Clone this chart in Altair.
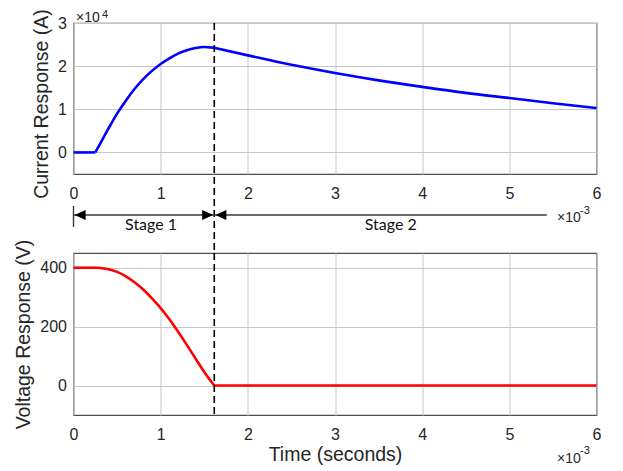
import altair as alt
import pandas as pd

# ---------------- data ----------------
# current response (top panel); time in milliseconds, current in A
time_i_ms = [0, 0.25, 0.3, 0.4, 0.5, 0.6, 0.7, 0.8, 0.9, 1.0, 1.1, 1.2, 1.3, 1.4, 1.5, 1.6,
             2.0, 2.5, 3.0, 3.5, 4.0, 4.5, 5.0, 5.5, 6.0]
current_A = [0, 0, 1800, 5500, 9000, 12000, 14700, 17000, 18900, 20500, 21800, 22900,
             23700, 24200, 24450, 24300,
             22500, 20300, 18400, 16700, 15200, 13800, 12600, 11400, 10300]
current_kinks_ms = [0.25, 1.6]

# voltage response (bottom panel); time in milliseconds, voltage in V
time_v_ms = [0, 0.27, 0.4, 0.5, 0.6, 0.7, 0.8, 0.9, 1.0, 1.1, 1.2, 1.3, 1.4, 1.5, 1.615, 6.0]
voltage_V = [400, 400, 395, 386, 371, 351, 326, 296, 263, 225, 183, 138, 92, 46, 0, 0]
voltage_kinks_ms = [0.27, 1.615]

# stage boundaries (ms)
stage_boundary_ms = 1.615
stage2_end_ms = 5.43
stage_labels = ["Stage 1", "Stage 2"]
stage_label_pos_ms = [0.89, 3.64]

x_ticks_ms = [0, 1, 2, 3, 4, 5, 6]
i_ticks = [0, 10000, 20000, 30000]
v_ticks = [0, 200, 400]


def segmented(times_ms, values, kinks, name):
    """Split a curve at its kinks so each smooth piece is drawn on its own."""
    edges = [min(times_ms)] + list(kinks) + [max(times_ms)]
    rows = []
    for k in range(len(edges) - 1):
        for t, v in zip(times_ms, values):
            if edges[k] <= t <= edges[k + 1]:
                rows.append({"t": t / 1000, name: v, "seg": k})
    return pd.DataFrame(rows)


# ---------------- tables ----------------
df_i = segmented(time_i_ms, current_A, current_kinks_ms, "I")
df_v = segmented(time_v_ms, voltage_V, voltage_kinks_ms, "V")
df_edge = pd.DataFrame({"t": [stage_boundary_ms / 1000]})
df_zero = pd.DataFrame({"t": [0.0]})
df_seg = pd.DataFrame({"t0": [0.0, stage_boundary_ms / 1000],
                       "t1": [stage_boundary_ms / 1000, stage2_end_ms / 1000]})
df_lab = pd.DataFrame({"t": [v / 1000 for v in stage_label_pos_ms], "label": stage_labels})

FONT = "Liberation Sans"
TXT = "#262626"
W, H1, H2, GAP = 523, 151, 162, 79

xscale = alt.Scale(domain=[0, 0.006], nice=False, zero=False)


def xaxis(title):
    kw = dict(values=[v / 1000 for v in x_ticks_ms], labelExpr="round(datum.value*1000)",
              grid=True, ticks=False, domain=False, labelPadding=11, labelFlush=False,
              labelOverlap=False, labelFontSize=16, labelFont=FONT, labelColor=TXT,
              gridColor="#c8c8c8", gridWidth=1)
    if title:
        kw.update(title=title, titleFont=FONT, titleFontSize=19.5, titleFontWeight="normal",
                  titleColor=TXT, titlePadding=3)
    else:
        kw.update(title=None)
    return alt.Axis(**kw)


def yaxis(title, values, expr, title_y):
    return alt.Axis(values=values, labelExpr=expr, title=title, titleFont=FONT,
                    titleFontSize=19.5, titleFontWeight="normal", titleColor=TXT,
                    titlePadding=6, titleY=title_y, grid=True, ticks=False, domain=False,
                    labelPadding=7, labelFontSize=16, labelFont=FONT, labelColor=TXT,
                    gridColor="#c8c8c8", gridWidth=1)


def one(text):
    return pd.DataFrame({"label": [text]})


LEFT_HEAD = "M 0.2 0 L 2.2 -0.9 L 2.2 0.9 Z"
RIGHT_HEAD = "M -0.2 0 L -2.2 -0.9 L -2.2 0.9 Z"
ARROW_Y = 192

# ---------------- top panel ----------------
line_i = alt.Chart(df_i).mark_line(color="#0000ff", strokeWidth=2.6, interpolate="monotone").encode(
    x=alt.X("t:Q", scale=xscale, axis=xaxis(None)),
    y=alt.Y("I:Q", scale=alt.Scale(domain=[-5000, 30000], nice=False),
            axis=yaxis("Current Response (A)", i_ticks, "round(datum.value/10000)", H1 / 2 + 5)),
    detail="seg:N",
)
rule_top = alt.Chart(df_edge).mark_rule(color="black", strokeWidth=1.6, strokeDash=[7, 4]).encode(
    x="t:Q", y=alt.value(0), y2=alt.value(H1 + GAP))
segs = alt.Chart(df_seg).mark_rule(color="#3a3a3a", strokeWidth=1.4).encode(
    x="t0:Q", x2="t1:Q", y=alt.value(ARROW_Y))
bar0 = alt.Chart(df_zero).mark_rule(color="#3a3a3a", strokeWidth=1.4).encode(
    x="t:Q", y=alt.value(183), y2=alt.value(204))
head_l = alt.Chart(pd.DataFrame({"t": [0.0, stage_boundary_ms / 1000]})).mark_point(
    shape=LEFT_HEAD, filled=True, size=121, color="black", opacity=1).encode(
    x="t:Q", y=alt.value(ARROW_Y))
head_r = alt.Chart(df_edge).mark_point(
    shape=RIGHT_HEAD, filled=True, size=121, color="black", opacity=1).encode(
    x="t:Q", y=alt.value(ARROW_Y))
stage_txt = alt.Chart(df_lab).mark_text(font="Lato", fontSize=16, color="#111111",
                                        baseline="middle", align="center").encode(
    x="t:Q", y=alt.value(202), text="label:N")
x10_top = alt.Chart(one("×10")).mark_text(font=FONT, fontSize=14, color=TXT, align="left",
                                          baseline="middle").encode(
    x=alt.value(483.5), y=alt.value(195), text="label:N")
e3_top = alt.Chart(one("-3")).mark_text(font=FONT, fontSize=11, color=TXT, align="left",
                                        baseline="middle").encode(
    x=alt.value(506.5), y=alt.value(188), text="label:N")
x10_4 = alt.Chart(one("×10")).mark_text(font=FONT, fontSize=14, color=TXT, align="left",
                                        baseline="alphabetic").encode(
    x=alt.value(2.5), y=alt.value(-1), text="label:N")
e4 = alt.Chart(one("4")).mark_text(font=FONT, fontSize=11, color=TXT, align="left",
                                   baseline="alphabetic").encode(
    x=alt.value(28.5), y=alt.value(-5), text="label:N")

top = alt.layer(line_i, rule_top, segs, bar0, head_l, head_r, stage_txt,
                x10_top, e3_top, x10_4, e4).properties(width=W, height=H1)

# ---------------- bottom panel ----------------
line_v = alt.Chart(df_v).mark_line(color="#ff0000", strokeWidth=2.6, interpolate="monotone").encode(
    x=alt.X("t:Q", scale=xscale, axis=xaxis("Time (seconds)")),
    y=alt.Y("V:Q", scale=alt.Scale(domain=[-100, 450], nice=False),
            axis=yaxis("Voltage Response (V)", v_ticks, "format(datum.value, 'd')", H2 / 2)),
    detail="seg:N",
)
rule_bot = alt.Chart(df_edge).mark_rule(color="black", strokeWidth=1.6, strokeDash=[7, 4]).encode(
    x="t:Q", y=alt.value(0), y2=alt.value(H2))
x10_bot = alt.Chart(one("×10")).mark_text(font=FONT, fontSize=14, color=TXT, align="left",
                                          baseline="middle").encode(
    x=alt.value(483.5), y=alt.value(206), text="label:N")
e3_bot = alt.Chart(one("-3")).mark_text(font=FONT, fontSize=11, color=TXT, align="left",
                                        baseline="middle").encode(
    x=alt.value(506.5), y=alt.value(198), text="label:N")

bottom = alt.layer(line_v, rule_bot, x10_bot, e3_bot).properties(width=W, height=H2)

chart = alt.vconcat(top, bottom, spacing=GAP, bounds="flush").properties(
    padding={"left": 4.5, "top": 0, "right": 5, "bottom": 5},
    background="white",
).configure_view(stroke="#4d4d4d", strokeWidth=1.2)

chart.save("out.html", embed_options={"renderer": "svg", "actions": False})
